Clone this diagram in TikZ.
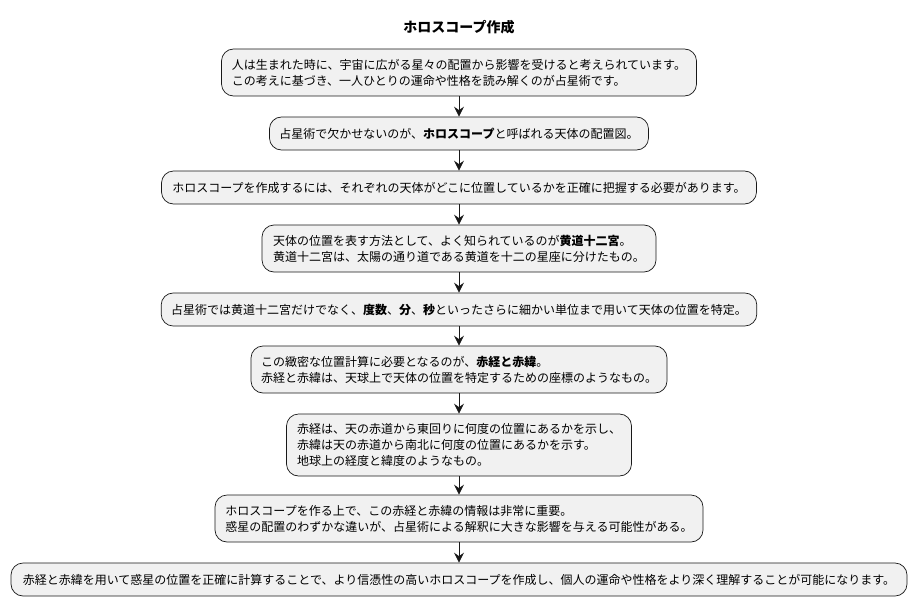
\documentclass[tikz,border=0pt]{standalone}
\usepackage{fontspec}
\setmainfont{Noto Sans CJK JP}
\usepackage{xcolor}
\usetikzlibrary{arrows.meta}

\definecolor{boxfill}{HTML}{F1F1F1}
\definecolor{boxline}{HTML}{181818}

\begin{document}
\begin{tikzpicture}[x=1pt,y=-1pt,
    act/.style={draw=boxline,fill=boxfill,rounded corners=12pt,line width=0.7pt,
        align=left,inner xsep=10pt,inner ysep=0pt,
        font=\fontsize{12}{16}\selectfont},
    flow/.style={draw=boxline,line width=0.8pt,-{Stealth[length=10pt,width=10pt,inset=3.5pt]}}]
            \useasboundingbox (0,0) rectangle (917,607);

            \node[font=\fontsize{14}{16}\selectfont\bfseries] (title) at (459,27) {ホロスコープ作成};

            \node[act,minimum width=475pt,minimum height=47pt] (a1) at (459,72.5) {人は生まれた時に、宇宙に広がる星々の配置から影響を受けると考えられています。\\この考えに基づき、一人ひとりの運命や性格を読み解くのが占星術です。};
            \node[act,minimum width=378pt,minimum height=33pt] (a2) at (459,133.5) {占星術で欠かせないのが、\textbf{ホロスコープ}と呼ばれる天体の配置図。};
            \node[act,minimum width=595pt,minimum height=33pt] (a3) at (459,187.5) {ホロスコープを作成するには、それぞれの天体がどこに位置しているかを正確に把握する必要があります。};
            \node[act,minimum width=394pt,minimum height=47pt] (a4) at (459,248.5) {天体の位置を表す方法として、よく知られているのが\textbf{黄道十二宮}。\\黄道十二宮は、太陽の通り道である黄道を十二の星座に分けたもの。};
            \node[act,minimum width=595pt,minimum height=33pt] (a5) at (459,309.5) {占星術では黄道十二宮だけでなく、\textbf{度数}、\textbf{分}、\textbf{秒}といったさらに細かい単位まで用いて天体の位置を特定。};
            \node[act,minimum width=416pt,minimum height=47pt] (a6) at (459,369.5) {この緻密な位置計算に必要となるのが、\textbf{赤経と赤緯}。\\赤経と赤緯は、天球上で天体の位置を特定するための座標のようなもの。};
            \node[act,minimum width=345pt,minimum height=62pt] (a7) at (459,445) {赤経は、天の赤道から東回りに何度の位置にあるかを示し、\\赤緯は天の赤道から南北に何度の位置にあるかを示す。\\地球上の経度と緯度のようなもの。};
            \node[act,minimum width=488pt,minimum height=47pt] (a8) at (459,518.5) {ホロスコープを作る上で、この赤経と赤緯の情報は非常に重要。\\惑星の配置のわずかな違いが、占星術による解釈に大きな影響を与える可能性がある。};
            \node[act,minimum width=896pt,minimum height=33pt] (a9) at (459,579.5) {赤経と赤緯を用いて惑星の位置を正確に計算することで、より信憑性の高いホロスコープを作成し、個人の運命や性格をより深く理解することが可能になります。};

            \draw[flow] (a1) -- (a2);
            \draw[flow] (a2) -- (a3);
            \draw[flow] (a3) -- (a4);
            \draw[flow] (a4) -- (a5);
            \draw[flow] (a5) -- (a6);
            \draw[flow] (a6) -- (a7);
            \draw[flow] (a7) -- (a8);
            \draw[flow] (a8) -- (a9);
        \end{tikzpicture}
\end{document}
